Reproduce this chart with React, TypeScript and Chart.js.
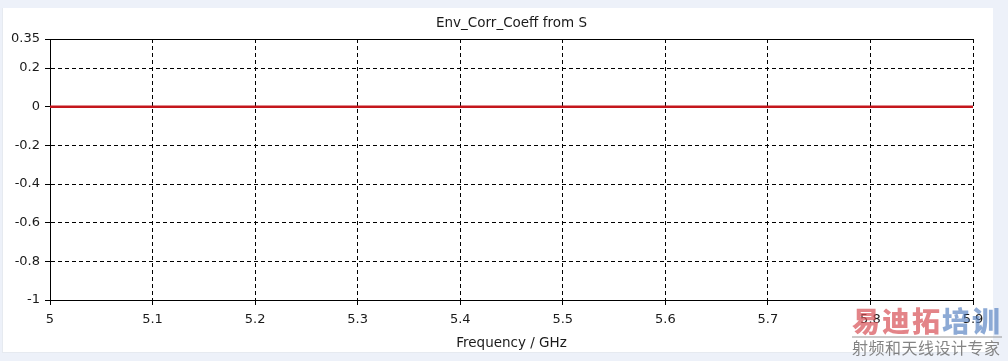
import React, { useEffect, useRef } from "react";
import { Chart, registerables } from "chart.js";

Chart.register(...registerables);

const chartTitle = "Env_Corr_Coeff from S";
const xAxisTitle = "Frequency / GHz";
const frequencies = [5.0, 5.1, 5.2, 5.3, 5.4, 5.5, 5.6, 5.7, 5.8, 5.9];
const envCorrCoeff = [0, 0, 0, 0, 0, 0, 0, 0, 0, 0];
const xTicks = [5.0, 5.1, 5.2, 5.3, 5.4, 5.5, 5.6, 5.7, 5.8, 5.9];
const xTickLabels = ["5", "5.1", "5.2", "5.3", "5.4", "5.5", "5.6", "5.7", "5.8", "5.9"];
const yTicks = [0.35, 0.2, 0, -0.2, -0.4, -0.6, -0.8, -1];
const yTickLabels = ["0.35", "0.2", "0", "-0.2", "-0.4", "-0.6", "-0.8", "-1"];

const FONT = "'DejaVu Sans', Verdana, sans-serif";

const framePlugin = {
  id: "framePlugin",
  afterDraw(chart: any) {
    const { ctx, chartArea } = chart;
    ctx.save();
    ctx.strokeStyle = "#000";
    ctx.lineWidth = 1;
    ctx.setLineDash([]);
    const y = Math.round(chartArea.top) + 0.5;
    ctx.beginPath();
    ctx.moveTo(chartArea.left, y);
    ctx.lineTo(chartArea.right + 1, y);
    ctx.stroke();
    ctx.fillStyle = "#1a1a1a";
    ctx.font = `13.5px ${FONT}`;
    ctx.textAlign = "center";
    ctx.textBaseline = "middle";
    const cx = (chartArea.left + chartArea.right) / 2;
    ctx.fillText(chartTitle, cx, 23);
    ctx.fillText(xAxisTitle, cx, 343);
    ctx.restore();
  },
};

export default function App() {
  const ref = useRef<HTMLCanvasElement | null>(null);
  useEffect(() => {
    if (!ref.current) return;
    const chart = new Chart(ref.current, {
      type: "line",
      data: {
        datasets: [
          {
            label: "Env_Corr_Coeff",
            data: frequencies.map((f, i) => ({ x: f, y: envCorrCoeff[i] })),
            borderColor: "#c4161c",
            borderWidth: 2.5,
            pointRadius: 0,
            tension: 0,
          },
        ],
      },
      options: {
        animation: false,
        responsive: false,
        maintainAspectRatio: false,
        layout: { padding: { left: 0, right: 35, top: 39, bottom: 0 } },
        plugins: { legend: { display: false }, title: { display: false }, tooltip: { enabled: false } },
        scales: {
          x: {
            type: "linear",
            min: 5,
            max: 5.9,
            afterBuildTicks: (scale: any) => {
              scale.ticks = xTicks.map((v) => ({ value: v }));
            },
            afterFit: (scale: any) => {
              scale.height = 61;
            },
            ticks: {
              autoSkip: false,
              maxRotation: 0,
              padding: 7,
              color: "#1a1a1a",
              font: { family: FONT, size: 13 },
              callback: (_v: any, i: number) => xTickLabels[i],
            },
            grid: {
              color: "#000",
              lineWidth: 1,
              tickLength: 5,
              tickColor: "#000",
              tickBorderDash: [],
            },
            border: { display: true, color: "#000", width: 1, dash: [4, 3] },
          },
          y: {
            type: "linear",
            min: -1,
            max: 0.35,
            afterBuildTicks: (scale: any) => {
              scale.ticks = yTicks.map((v) => ({ value: v }));
            },
            afterFit: (scale: any) => {
              scale.width = 50;
            },
            ticks: {
              autoSkip: false,
              padding: 5,
              color: "#1a1a1a",
              font: { family: FONT, size: 13 },
              callback: (_v: any, i: number) => yTickLabels[i],
            },
            grid: {
              color: "#000",
              lineWidth: 1,
              tickLength: 5,
              tickColor: "#000",
              tickBorderDash: [],
            },
            border: { display: true, color: "#000", width: 1, dash: [4, 3] },
          },
        },
      },
      plugins: [framePlugin],
    } as any);
    return () => chart.destroy();
  }, []);

  return (
    <div style={{ position: "absolute", left: 0, top: 0, width: 1008, height: 361, background: "#edf1f9", overflow: "hidden" }}>
      <div style={{ position: "absolute", left: 2, top: 8, width: 990, height: 344, background: "#fff", borderLeft: "1px solid #e6eaf0", borderBottom: "1px solid #e6eaf0" }} />
      <canvas ref={ref} width={1008} height={361} style={{ position: "absolute", left: 0, top: 0, width: 1008, height: 361 }} />
      <div style={{ position: "absolute", left: 852, top: 306, width: 154, fontFamily: "'Noto Sans CJK SC', sans-serif", lineHeight: 1 }}>
        <div style={{ fontSize: 28, fontWeight: 900, letterSpacing: 2, whiteSpace: "nowrap" }}>
          <span style={{ color: "rgba(215, 80, 85, 0.7)" }}>易迪拓</span>
          <span style={{ color: "rgba(80, 125, 190, 0.65)" }}>培训</span>
        </div>
        <div style={{ borderTop: "2px solid rgba(150,150,150,0.5)", marginTop: 2, width: 150 }} />
        <div style={{ fontSize: 16, color: "rgba(110,110,110,0.85)", whiteSpace: "nowrap", marginTop: 1, letterSpacing: 0.5 }}>射频和天线设计专家</div>
      </div>
    </div>
  );
}
